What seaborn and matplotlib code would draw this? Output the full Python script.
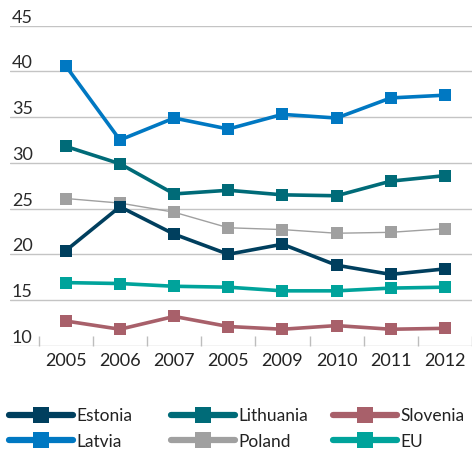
import numpy as np
import pandas as pd
import matplotlib
matplotlib.use("Agg")
import matplotlib.pyplot as plt
import matplotlib.transforms as mtransforms
from matplotlib.lines import Line2D
import seaborn as sns

# ---- data ----
anos = ["2005", "2006", "2007", "2005", "2009", "2010", "2011", "2012"]
estonia = [20.4, 25.2, 22.2, 20.0, 21.1, 18.8, 17.8, 18.4]
latvia = [40.6, 32.5, 34.9, 33.7, 35.3, 34.9, 37.1, 37.4]
lithuania = [31.8, 29.9, 26.6, 27.0, 26.5, 26.4, 28.0, 28.6]
poland = [26.1, 25.6, 24.6, 22.9, 22.7, 22.3, 22.4, 22.8]
slovenia = [12.7, 11.8, 13.2, 12.1, 11.8, 12.2, 11.8, 11.9]
eu = [16.9, 16.8, 16.5, 16.4, 16.0, 16.0, 16.3, 16.4]
y_ticks = [10, 15, 20, 25, 30, 35, 40, 45]

series = {
    "Estonia": estonia, "Latvia": latvia, "Lithuania": lithuania,
    "Poland": poland, "Slovenia": slovenia, "EU": eu,
}
cores = {
    "Estonia": "#003F5E", "Latvia": "#0078C2", "Lithuania": "#006B78",
    "Poland": "#A0A0A0", "Slovenia": "#A8606A", "EU": "#00A39B",
}
larguras = {"Estonia": 2.6, "Latvia": 2.6, "Lithuania": 2.6,
            "Poland": 1.0, "Slovenia": 2.6, "EU": 2.6}

df = pd.DataFrame([
    {"pos": i, "pais": nome, "valor": v}
    for nome, vals in series.items() for i, v in enumerate(vals)
])

sns.set_theme(style="white")
plt.rcParams["font.family"] = ["Liberation Sans Narrow", "Lato", "DejaVu Sans"]

W, H = 472, 449
fig = plt.figure(figsize=(W / 100, H / 100), dpi=100)
ax = fig.add_axes([10 / W, 1 - 345.7 / H, 1 - 10 / W, (345.7 - 25.7) / H])

# gridlines
for t in y_ticks:
    ax.axhline(t, color="#C4C4C4", lw=1.0, zorder=0)

ordem = ["Latvia", "Lithuania", "Poland", "EU", "Slovenia", "Estonia"]
for nome in ordem:
    sub = df[df["pais"] == nome]
    sns.lineplot(data=sub, x="pos", y="valor", ax=ax, color=cores[nome],
                 lw=larguras[nome], marker="s", markersize=8.5,
                 markeredgewidth=0, sort=False, legend=False, zorder=3)

ax.set_xlim(-1.03, 7.5)
ax.set_ylim(10, 45)
for s in ax.spines.values():
    s.set_visible(False)

ax.set_xticks(range(len(anos)))
ax.set_xticklabels(anos, fontsize=13, color="#222222")
ax.set_xticks(np.arange(-0.5, len(anos), 1.0), minor=True)
ax.tick_params(axis="x", which="major", length=0, pad=5)
ax.tick_params(axis="x", which="minor", direction="in", length=7,
               width=1, color="#BDBDBD", bottom=True)
ax.set_yticks([])
ax.set_xlabel("")
ax.set_ylabel("")

# y labels sit above the gridlines
trans = mtransforms.blended_transform_factory(fig.transFigure, ax.transData)
off = mtransforms.offset_copy(trans, fig=fig, x=0, y=3, units="dots")
for t in y_ticks:
    fig.text(12 / W, t, str(t), transform=off, ha="left", va="baseline",
             fontsize=13, color="#2A2A2A")

# legend in three columns
colunas = [["Estonia", "Latvia"], ["Lithuania", "Poland"], ["Slovenia", "EU"]]
xs = [9, 171, 333]
for col, x0 in zip(colunas, xs):
    handles = [Line2D([0], [0], color=cores[n], lw=4.5, marker="s",
                      markersize=12, markeredgewidth=0,
                      solid_capstyle="round") for n in col]
    fig.legend(handles, col, loc="upper left",
               bbox_to_anchor=(x0 / W, 1 - 408 / H), frameon=False,
               fontsize=12.5, handlelength=3.7, handletextpad=0.2,
               labelspacing=0.55, borderaxespad=0, borderpad=0,
               labelcolor="#222222")

fig.savefig("out.png", dpi=100)
